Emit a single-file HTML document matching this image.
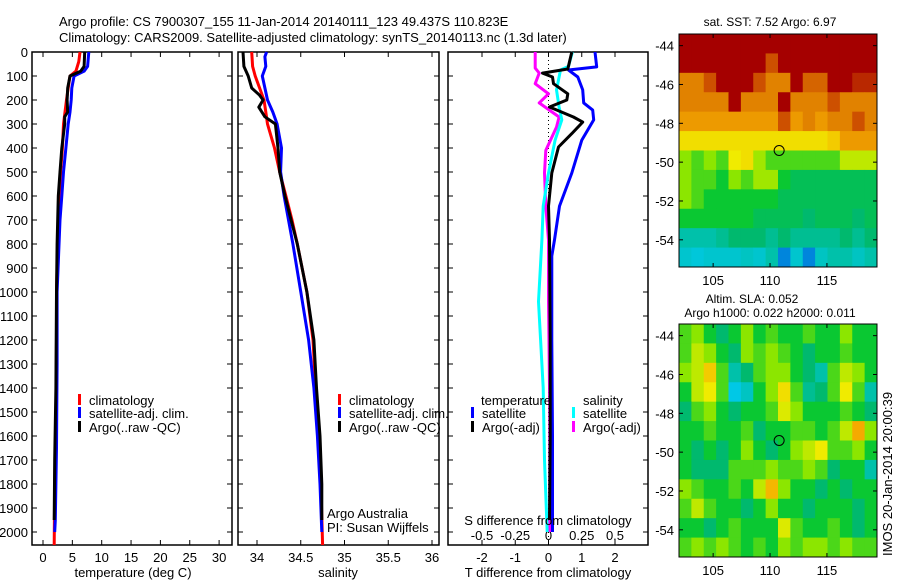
<!DOCTYPE html>
<html><head><meta charset="utf-8"><style>
body{margin:0;background:#fff;}
svg{display:block;font-family:"Liberation Sans",sans-serif;font-size:13px;}
</style></head><body>
<svg id="chart" width="900" height="580" viewBox="0 0 900 580">
<text x="59" y="26">Argo profile: CS 7900307_155 11-Jan-2014 20140111_123 49.437S 110.823E</text>
<text x="59" y="42">Climatology: CARS2009. Satellite-adjusted climatology: synTS_20140113.nc (1.3d later)</text>
<g id="p1"></g>
<g id="p2"></g>
<g id="p3"></g>
<g id="m1"></g>
<g id="m2"></g>
</svg>
<script>
// ---- data ----
const depthTicks=[0,100,200,300,400,500,600,700,800,900,1000,1100,1200,1300,1400,1500,1600,1700,1800,1900,2000];
const tempTicks=[0,5,10,15,20,25,30];
const salTicks=[34,34.5,35,35.5,36];
const salTickLabels=["34","34.5","35","35.5","36"];
const tdiffTicks=[-2,-1,0,1,2];
const sdiffTicks=[-0.5,-0.25,0,0.25,0.5];
const sdiffLabels=["-0.5","-0.25","0","0.25","0.5"];

const climTDepth=[0,40,80,100,150,200,300,400,500,600,700,1000,1200,1500,1800,2054];
const climTVal=[6.3,6.1,5.6,4.6,4.3,4.0,3.5,3.3,3.0,2.8,2.6,2.3,2.3,2.2,2.0,1.9];
const satTDepth=[0,60,80,100,150,200,250,300,400,500,600,700,1000,1300,1650,1950,2000];
const satTVal=[7.8,7.6,7.0,5.3,4.9,4.8,4.6,4.3,3.9,3.5,3.2,2.9,2.4,2.4,2.3,2.1,2.0];
const argoTDepth=[0,60,80,100,150,200,250,270,300,400,500,600,800,1000,1400,1700,1950];
const argoTVal=[7.1,7.0,6.4,4.6,4.2,4.1,4.2,3.7,3.7,3.2,2.9,2.6,2.4,2.3,2.2,2.0,1.9];

const climSDepth=[0,60,100,150,200,250,300,400,500,600,700,800,1000,1200,1400,1600,1800,2054];
const climSVal=[33.94,33.95,33.98,34.03,34.08,34.10,34.12,34.20,34.26,34.33,34.40,34.46,34.57,34.64,34.67,34.70,34.73,34.75];
const satSDepth=[0,20,60,100,150,200,250,300,400,500,600,700,800,1000,1200,1400,1600,1800,2000];
const satSVal=[34.11,34.09,34.10,34.06,34.09,34.12,34.18,34.23,34.28,34.27,34.31,34.36,34.41,34.50,34.59,34.65,34.69,34.72,34.74];
const argoSDepth=[0,60,100,150,180,200,230,270,300,400,500,600,700,800,1000,1200,1400,1600,1800,1950];
const argoSVal=[33.84,33.85,33.90,33.94,34.03,34.07,34.02,34.09,34.21,34.24,34.26,34.32,34.39,34.46,34.57,34.65,34.68,34.72,34.74,34.74];

const satTdDepth=[0,62,75,104,158,212,242,283,367,504,642,783,850,1200,1600,2000];
const satTdVal=[1.4,1.45,0.6,0.88,1.03,1.06,1.33,1.36,1.0,0.7,0.33,0.18,0.1,0.1,0.12,0.12];
const argoTdDepth=[0,71,88,104,132,174,200,229,271,292,340,396,504,642,783,1200,1600,1950];
const argoTdVal=[0.7,0.58,-0.18,0.12,0.15,0.58,0.55,0.03,0.75,1.03,0.7,0.3,0.1,0.0,0.03,0.05,0.05,0.03];
const satSdDepth=[0,60,75,158,229,283,367,504,642,783,1040,1400,1700,2000];
const satSdVal=[0.18,0.15,0.09,0.06,0.08,0.1,0.05,0.0,-0.04,-0.05,-0.075,-0.04,-0.03,-0.01];
const argoSdDepth=[0,67,88,132,174,212,271,313,410,504,642,783,1040,1500,2000];
const argoSdVal=[-0.1,-0.1,-0.07,-0.1,0.0,-0.07,0.08,0.06,-0.02,-0.03,-0.02,0.0,0.0,0.01,0.01];

const latTicks=[-44,-46,-48,-50,-52,-54];
const lonTicks=[105,110,115];
const argoLon=110.8, argoLat=-49.4;
const sstGrid=[
[1,1,1,1,1,1,1,1,1,1,1,1,1,1,1,1],
[1,1,1,1,1,1,1,0.9,1,1,1,1,1,1,1,1],
[0.85,0.85,0.9,1,1,1,0.9,0.85,0.85,1,0.88,0.88,1,1,0.95,0.95],
[0.85,0.85,0.85,0.85,1,0.85,0.85,0.85,1,0.85,0.85,0.85,0.9,0.85,0.85,0.85],
[0.82,0.82,0.82,0.82,0.82,0.82,0.82,0.82,0.9,0.82,0.85,0.82,0.85,0.85,0.9,0.85],
[0.72,0.72,0.72,0.72,0.72,0.72,0.72,0.72,0.72,0.72,0.72,0.72,0.75,0.82,0.82,0.82],
[0.6,0.55,0.6,0.55,0.7,0.72,0.62,0.55,0.55,0.55,0.55,0.55,0.55,0.65,0.65,0.65],
[0.6,0.55,0.55,0.5,0.6,0.55,0.62,0.62,0.5,0.47,0.47,0.47,0.47,0.47,0.47,0.47],
[0.6,0.55,0.5,0.5,0.5,0.5,0.5,0.5,0.47,0.47,0.47,0.47,0.47,0.47,0.47,0.47],
[0.5,0.5,0.5,0.5,0.5,0.5,0.47,0.47,0.47,0.47,0.45,0.47,0.47,0.47,0.45,0.47],
[0.4,0.4,0.4,0.42,0.45,0.45,0.45,0.42,0.45,0.42,0.42,0.42,0.42,0.45,0.42,0.45],
[0.37,0.36,0.37,0.37,0.37,0.38,0.37,0.4,0.3,0.37,0.3,0.38,0.4,0.4,0.38,0.4]];
const slaGrid=[
[0.55,0.6,0.5,0.45,0.5,0.6,0.5,0.55,0.5,0.5,0.55,0.5,0.5,0.6,0.5,0.5],
[0.55,0.65,0.6,0.5,0.45,0.6,0.55,0.6,0.55,0.5,0.45,0.5,0.5,0.55,0.5,0.5],
[0.6,0.65,0.75,0.55,0.4,0.45,0.55,0.6,0.6,0.5,0.45,0.4,0.55,0.65,0.6,0.5],
[0.5,0.65,0.7,0.55,0.35,0.38,0.5,0.6,0.72,0.55,0.42,0.45,0.55,0.7,0.55,0.4],
[0.45,0.55,0.6,0.5,0.45,0.5,0.5,0.55,0.68,0.6,0.5,0.5,0.5,0.55,0.5,0.45],
[0.5,0.5,0.55,0.5,0.5,0.55,0.45,0.5,0.5,0.55,0.55,0.5,0.55,0.65,0.8,0.6],
[0.5,0.45,0.5,0.45,0.5,0.6,0.5,0.45,0.5,0.6,0.65,0.7,0.55,0.55,0.6,0.5],
[0.5,0.45,0.45,0.45,0.55,0.55,0.55,0.6,0.55,0.55,0.6,0.55,0.45,0.5,0.5,0.4],
[0.6,0.55,0.5,0.5,0.55,0.5,0.65,0.78,0.6,0.5,0.5,0.45,0.5,0.45,0.5,0.5],
[0.55,0.65,0.55,0.5,0.5,0.45,0.5,0.6,0.5,0.5,0.45,0.5,0.5,0.5,0.45,0.5],
[0.5,0.5,0.45,0.5,0.55,0.5,0.5,0.5,0.68,0.55,0.5,0.5,0.55,0.5,0.45,0.5],
[0.55,0.6,0.55,0.6,0.55,0.5,0.55,0.5,0.6,0.55,0.6,0.6,0.55,0.6,0.55,0.55]];

// ---- helpers ----
const NS='http://www.w3.org/2000/svg';
function mk(parent,tag,attrs,text){const e=document.createElementNS(NS,tag);for(const k in attrs)e.setAttribute(k,attrs[k]);if(text!==undefined)e.textContent=text;parent.appendChild(e);return e;}
const TOP=52,BOT=545;
const yD=d=>TOP+d*0.24;
const xT=v=>43+v*5.87;
const xS=v=>257+(v-34)*87.5;
const xTd=v=>548.5+v*33.25;
const xSd=v=>548.5+v*133;

function frame(g,x0,x1,name){
  const r=mk(g,'rect',{x:x0,y:TOP,width:x1-x0,height:BOT-TOP,fill:'none',stroke:'#000','stroke-width':1.5});
  
  
  depthTicks.forEach(d=>{
    mk(g,'line',{x1:x0,x2:x0+5,y1:yD(d),y2:yD(d),stroke:'#000'});
    mk(g,'line',{x1:x1-5,x2:x1,y1:yD(d),y2:yD(d),stroke:'#000'});
  });
}
function xticks(g,vals,fx,labels,name,ly){
  vals.forEach((v,i)=>{
    const x=fx(v);
    mk(g,'line',{x1:x,x2:x,y1:TOP,y2:TOP+5,stroke:'#000'});
    mk(g,'line',{x1:x,x2:x,y1:BOT-5,y2:BOT,stroke:'#000'});
    const t=mk(g,'text',{x:x,y:ly,'text-anchor':'middle'},labels[i]);
    
    
  });
}
function line(g,ds,vs,fx,color,name){
  const pts=ds.map((d,i)=>fx(vs[i]).toFixed(1)+','+yD(d).toFixed(1)).join(' ');
  const p=mk(g,'polyline',{points:pts,fill:'none',stroke:color,'stroke-width':3,'stroke-linejoin':'round'});
  
  
}
function legend(g,x,y,color,label,name){
  mk(g,'rect',{x:x,y:y-11,width:3,height:11,fill:color});
  const t=mk(g,'text',{x:x+11,y:y},label);
  
  
}

// ---- panel 1 ----
const p1=document.getElementById('p1');
frame(p1,32,232,'temperature-axes');
depthTicks.forEach(d=>{
  const t=mk(p1,'text',{x:28,y:yD(d)+5,'text-anchor':'end'},String(d));
  
  
});
xticks(p1,tempTicks,xT,tempTicks.map(String),'temperature-tick-label',562);
line(p1,climTDepth,climTVal,xT,'#f00','temp-climatology-line');
line(p1,satTDepth,satTVal,xT,'#00f','temp-satellite-line');
line(p1,argoTDepth,argoTVal,xT,'#000','temp-argo-line');
legend(p1,78,405,'#f00','climatology','legend-climatology');
legend(p1,78,418,'#00f','satellite-adj. clim.','legend-satellite');
legend(p1,78,432,'#000','Argo(..raw -QC)','legend-argo');
let tx=mk(p1,'text',{x:133,y:577,'text-anchor':'middle'},'temperature (deg C)');



// ---- panel 2 ----
const p2=document.getElementById('p2');
frame(p2,238,439,'salinity-axes');
xticks(p2,salTicks,xS,salTickLabels,'salinity-tick-label',562);
line(p2,climSDepth,climSVal,xS,'#f00','sal-climatology-line');
line(p2,satSDepth,satSVal,xS,'#00f','sal-satellite-line');
line(p2,argoSDepth,argoSVal,xS,'#000','sal-argo-line');
legend(p2,338,405,'#f00','climatology','legend-climatology-sal');
legend(p2,338,418,'#00f','satellite-adj. clim.','legend-satellite-sal');
legend(p2,338,432,'#000','Argo(..raw -QC)','legend-argo-sal');
tx=mk(p2,'text',{x:327,y:518},'Argo Australia');


tx=mk(p2,'text',{x:327,y:532},'PI: Susan Wijffels');


tx=mk(p2,'text',{x:338,y:577,'text-anchor':'middle'},'salinity');



// ---- panel 3 ----
const p3=document.getElementById('p3');
frame(p3,448,648,'difference-axes');
mk(p3,'line',{x1:xTd(0),x2:xTd(0),y1:TOP,y2:BOT,stroke:'#000','stroke-dasharray':'1,3'});
xticks(p3,tdiffTicks,xTd,tdiffTicks.map(String),'tdiff-tick-label',562);
sdiffTicks.forEach((v,i)=>{
  const t=mk(p3,'text',{x:xSd(v),y:540,'text-anchor':'middle'},sdiffLabels[i]);
  
  
});
line(p3,argoSdDepth,argoSdVal,xSd,'#f0f','sdiff-argo-line');
line(p3,satSdDepth,satSdVal,xSd,'#0ff','sdiff-satellite-line');
line(p3,satTdDepth,satTdVal,xTd,'#00f','tdiff-satellite-line');
line(p3,argoTdDepth,argoTdVal,xTd,'#000','tdiff-argo-line');
tx=mk(p3,'text',{x:481,y:405},'temperature');


tx=mk(p3,'text',{x:583,y:405},'salinity');


legend(p3,471,418,'#00f','satellite','legend-tdiff-satellite');
legend(p3,471,432,'#000','Argo(-adj)','legend-tdiff-argo');
legend(p3,572,418,'#0ff','satellite','legend-sdiff-satellite');
legend(p3,572,432,'#f0f','Argo(-adj)','legend-sdiff-argo');
tx=mk(p3,'text',{x:548,y:525,'text-anchor':'middle'},'S difference from climatology');


tx=mk(p3,'text',{x:548,y:577,'text-anchor':'middle'},'T difference from climatology');



// ---- maps ----
const LON0=102.0,LON1=119.4,LAT0=-43.4,LAT1=-55.4;
function cmap(v){
  const st=[[0.2,[0,0,200]],[0.35,[0,200,230]],[0.45,[0,185,110]],[0.5,[10,200,50]],[0.6,[140,230,0]],[0.7,[240,235,0]],[0.8,[245,170,0]],[0.85,[225,130,0]],[0.9,[205,80,0]],[1,[165,0,0]]];
  if(v<=st[0][0])return 'rgb('+st[0][1]+')';
  for(let i=1;i<st.length;i++){if(v<=st[i][0]){const a=st[i-1],b=st[i],f=(v-a[0])/(b[0]-a[0]);return 'rgb('+a[1].map((c,k)=>Math.round(c+(b[1][k]-c)*f)).join(',')+')';}}
  return 'rgb(165,0,0)';
}
function map(g,grid,x0,x1,y0,y1,title,name,lonLabelY){
  const fx=lon=>x0+(lon-LON0)/(LON1-LON0)*(x1-x0);
  const fy=lat=>y0+(lat-LAT0)/(LAT1-LAT0)*(y1-y0);
  const rows=grid.length,cols=grid[0].length;
  const dLon=(LON1-LON0)/cols,dLat=(LAT1-LAT0)/rows;
  grid.forEach((row,r)=>row.forEach((v,c)=>{
    const xa=fx(LON0+c*dLon),xb=fx(LON0+(c+1)*dLon),ya=fy(LAT0+r*dLat),yb=fy(LAT0+(r+1)*dLat);
    const cell=mk(g,'rect',{x:xa,y:ya,width:xb-xa+0.5,height:yb-ya+0.5,fill:cmap(v)});
    
    
  }));
  const fr=mk(g,'rect',{x:x0,y:y0,width:x1-x0,height:y1-y0,fill:'none',stroke:'#000'});
  
  
  latTicks.forEach(l=>{
    mk(g,'line',{x1:x0,x2:x0+4,y1:fy(l),y2:fy(l),stroke:'#000'});
    mk(g,'line',{x1:x1-4,x2:x1,y1:fy(l),y2:fy(l),stroke:'#000'});
    const t=mk(g,'text',{x:x0-5,y:fy(l)+5,'text-anchor':'end'},String(l));
    
    
  });
  lonTicks.forEach(l=>{
    mk(g,'line',{x1:fx(l),x2:fx(l),y1:y0,y2:y0+4,stroke:'#000'});
    mk(g,'line',{x1:fx(l),x2:fx(l),y1:y1-4,y2:y1,stroke:'#000'});
    const t=mk(g,'text',{x:fx(l),y:lonLabelY,'text-anchor':'middle'},String(l));
    
    
  });
  const c=mk(g,'circle',{cx:fx(argoLon),cy:fy(argoLat),r:5,fill:'none',stroke:'#000','stroke-width':1});
  
  
}
const m1=document.getElementById('m1');
map(m1,sstGrid,679,877,34,267,'','sst-map',285);
tx=mk(m1,'text',{x:770,y:26,'text-anchor':'middle','font-size':'12'},'sat. SST: 7.52 Argo: 6.97');


const m2=document.getElementById('m2');
map(m2,slaGrid,679,877,324,557,'','sla-map',575);
tx=mk(m2,'text',{x:752,y:303,'text-anchor':'middle','font-size':'12'},'Altim. SLA: 0.052');


tx=mk(m2,'text',{x:770,y:317,'text-anchor':'middle','font-size':'12'},'Argo h1000: 0.022 h2000: 0.011');


tx=mk(m2,'text',{x:0,y:0,transform:'translate(892,556) rotate(-90)','font-size':'13'},'IMOS 20-Jan-2014 20:00:39');


</script>
</body></html>
